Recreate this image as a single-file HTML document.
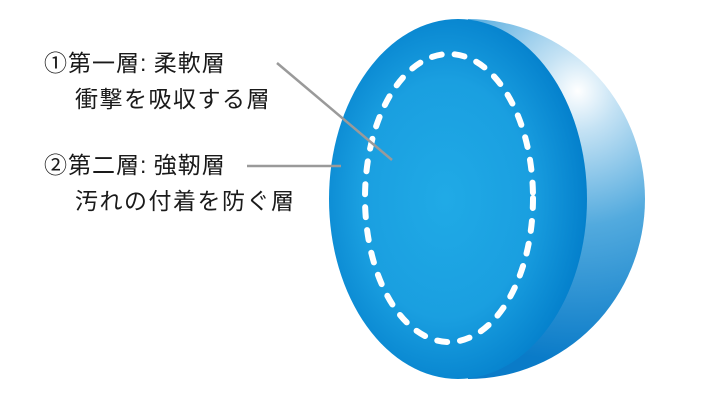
<!DOCTYPE html>
<html><head><meta charset="utf-8"><style>
html,body{margin:0;padding:0;background:#fff;}
body{width:720px;height:412px;position:relative;overflow:hidden;font-family:"Liberation Sans","Noto Sans CJK JP",sans-serif;color:#1a1a1a;}
.t{position:absolute;font-size:23px;line-height:23px;white-space:nowrap;letter-spacing:1px;}
svg{position:absolute;left:0;top:0;}
</style></head><body>
<svg width="720" height="412" viewBox="0 0 720 412">
<defs>
<radialGradient id="back" cx="0.81" cy="0.2" r="0.75">
<stop offset="0" stop-color="#ffffff"/>
<stop offset="0.15" stop-color="#c4e2f4"/>
<stop offset="0.5" stop-color="#52aade"/>
<stop offset="1" stop-color="#0a7bc8"/>
</radialGradient>
<radialGradient id="front" cx="0.45" cy="0.5" r="0.55">
<stop offset="0" stop-color="#20aae6"/>
<stop offset="0.6" stop-color="#1a9fe0"/>
<stop offset="1" stop-color="#0480cc"/>
</radialGradient>
<clipPath id="rh"><rect x="468" y="0" width="252" height="412"/></clipPath>
</defs>
<ellipse cx="468" cy="199" rx="177" ry="180" fill="url(#back)" clip-path="url(#rh)"/>
<ellipse cx="458" cy="199" rx="129" ry="180" fill="url(#front)"/>
<ellipse cx="449" cy="198" rx="84" ry="144" fill="none" stroke="#fff" stroke-width="6" stroke-dasharray="10 13" stroke-linecap="round"/>
<line x1="277" y1="63" x2="392" y2="160" stroke="#9a9a9a" stroke-width="2.5"/>
<line x1="247" y1="166" x2="341" y2="166" stroke="#9a9a9a" stroke-width="2.5"/>
</svg>
<div class="t" style="left:44px;top:52px;">①第一層<span style="letter-spacing:0">:</span> 柔軟層</div>
<div class="t" style="left:75px;top:88px;letter-spacing:1.5px">衝撃を吸収する層</div>
<div class="t" style="left:44px;top:154px;">②第二層<span style="letter-spacing:0">:</span> 強靭層</div>
<div class="t" style="left:75px;top:190px;letter-spacing:1.5px">汚れの付着を防ぐ層</div>
</body></html>
